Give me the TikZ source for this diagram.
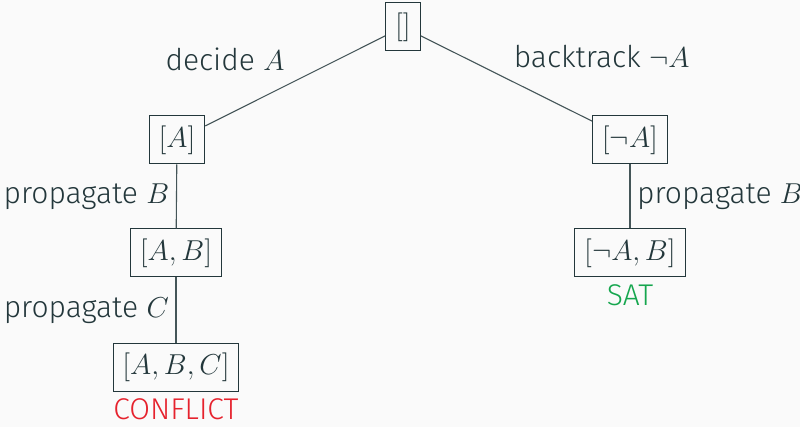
\documentclass[tikz,border=0pt]{standalone}
\usepackage{fontspec}
\setmainfont{Fira Sans Light}
\definecolor{mDark}{HTML}{23373B}
\definecolor{mBg}{HTML}{FAFAFA}
\definecolor{mRed}{HTML}{E6222D}
\definecolor{mGreen}{HTML}{15A64E}

\begin{document}
\begin{tikzpicture}[
		x=0.5pt,y=-0.5pt,
		every node/.style={
				text=mDark,
				font=\fontsize{15}{18}\selectfont,
			},
		trail/.style={
				draw=mDark, line width=0.5pt,
				inner xsep=4.7pt, inner ysep=4.5pt,
				minimum height=24pt,
			},
		edge/.style={draw=mDark!85, line width=0.55pt},]
	\fill[mBg] (0,0) rectangle (800,427);
	\useasboundingbox (0,0) rectangle (800,427);
	\node[trail] (root) at (403,27) {$[]$};
	\node[trail] (a) at (177,140) {$[A]$};
	\node[trail] (ab) at (176,253) {$[A,B]$};
	\node[trail] (abc) at (176,367.5) {$[A,B,C]$};
	\node[trail] (na) at (630,140) {$[\neg A]$};
	\node[trail] (nab) at (630,253) {$[\neg A,B]$};
	\draw[edge] (root) -- node[pos=0.47, above left, xshift=-4.5pt] (decide) {decide $A$} (a);
	\draw[edge] (root) -- node[pos=0.46, above right, xshift=3.5pt] (backtrack) {backtrack $\neg A$} (na);
	\draw[edge] (a) -- node[left] (propB) {propagate $B$} (ab);
	\draw[edge] (ab) -- node[left] (propC) {propagate $C$} (abc);
	\draw[edge] (na) -- node[right] (propnB) {propagate $B$} (nab);
	\node[below, text=mRed] (conflict) at (abc.south) {CONFLICT};
	\node[below, text=mGreen] (sat) at (nab.south) {SAT};
\end{tikzpicture}
\end{document}
